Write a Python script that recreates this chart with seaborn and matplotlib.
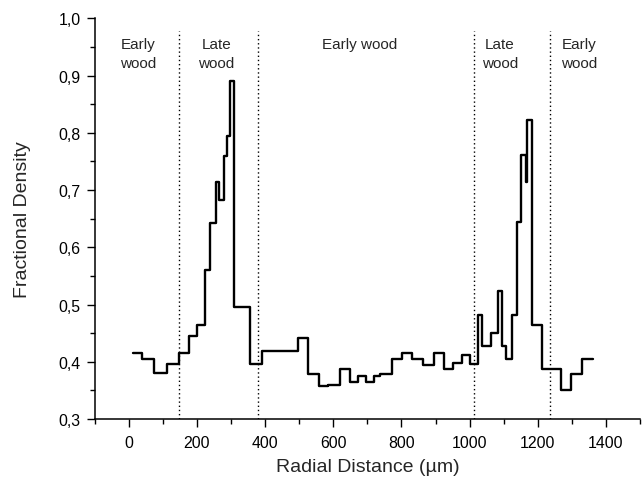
import matplotlib
matplotlib.use("Agg")
import matplotlib.pyplot as plt
import seaborn as sns
import pandas as pd
from matplotlib.ticker import MultipleLocator, FixedLocator, FixedFormatter

# ---- data ----
seg_start = [12, 39, 73, 112, 147, 176, 200, 223, 239, 257, 266, 278, 288, 298,
             310, 357, 391, 496, 526, 558, 585, 621, 648, 673, 695, 719, 738,
             771, 802, 832, 863, 896, 925, 952, 978, 1001, 1025, 1037, 1064,
             1084, 1094, 1108, 1123, 1140, 1150, 1165, 1169, 1182, 1211, 1267,
             1296, 1329]
seg_end = 1363
density = [0.415, 0.405, 0.380, 0.396, 0.415, 0.445, 0.464, 0.561, 0.643,
           0.714, 0.682, 0.760, 0.795, 0.890, 0.495, 0.396, 0.418, 0.441,
           0.379, 0.357, 0.359, 0.387, 0.364, 0.375, 0.364, 0.375, 0.379,
           0.405, 0.415, 0.405, 0.395, 0.415, 0.387, 0.397, 0.412, 0.396,
           0.481, 0.428, 0.450, 0.524, 0.428, 0.404, 0.481, 0.644, 0.762,
           0.714, 0.822, 0.464, 0.387, 0.351, 0.379, 0.405]

boundaries = [147, 378, 1012, 1237]
region_labels = ["Early\nwood", "Late\nwood", "Early wood", "Late\nwood", "Early\nwood"]
region_x = [28, 257, 678, 1089, 1320]
region_y = [0.938, 0.938, 0.956, 0.938, 0.938]

y_ticks = [0.3, 0.4, 0.5, 0.6, 0.7, 0.8, 0.9, 1.0]
y_tick_labels = ["0,3", "0,4", "0,5", "0,6", "0,7", "0,8", "0,9", "1,0"]
x_ticks = [0, 200, 400, 600, 800, 1000, 1200, 1400]

# ---- plot ----
sns.set_style("ticks")
plt.rcParams["font.family"] = ["Liberation Sans", "DejaVu Sans"]

fig = plt.figure(figsize=(6.42, 4.81), dpi=100)
ax = fig.add_axes([0.1475, 0.127, 0.997 - 0.1475, 0.9595 - 0.127])

df = pd.DataFrame({"x": seg_start + [seg_end], "y": density + [density[-1]]})
sns.lineplot(data=df, x="x", y="y", estimator=None, drawstyle="steps-post",
             color="black", linewidth=1.7, ax=ax)

for b in boundaries:
    ax.axvline(b, ymin=0, ymax=0.969, color="black", linestyle=(0, (1.0, 2.0)),
               linewidth=1.0)

for lab, xx, yy in zip(region_labels, region_x, region_y):
    ax.text(xx, yy, lab, ha="center", va="center", fontsize=11,
            linespacing=1.45)

ax.set_xlim(-100, 1500)
ax.set_ylim(0.3, 1.0)
ax.xaxis.set_major_locator(FixedLocator(x_ticks))
ax.xaxis.set_minor_locator(MultipleLocator(100))
ax.yaxis.set_major_locator(FixedLocator(y_ticks))
ax.yaxis.set_major_formatter(FixedFormatter(y_tick_labels))
ax.yaxis.set_minor_locator(MultipleLocator(0.05))

ax.tick_params(which="major", direction="out", length=6, width=1.0,
               labelsize=11.4, color="black", labelcolor="black")
ax.tick_params(axis="x", which="major", pad=5.5)
ax.tick_params(axis="y", which="major", pad=4)
ax.tick_params(which="minor", direction="out", length=3.5, width=1.0,
               color="black")

for s in ["top", "right"]:
    ax.spines[s].set_visible(False)
for s in ["left", "bottom"]:
    ax.spines[s].set_linewidth(1.1)
    ax.spines[s].set_color("black")

ax.set_xlabel("Radial Distance (µm)", fontsize=14, labelpad=6)
ax.set_ylabel("Fractional Density", fontsize=14, labelpad=20)

fig.savefig("out.png", dpi=100)
